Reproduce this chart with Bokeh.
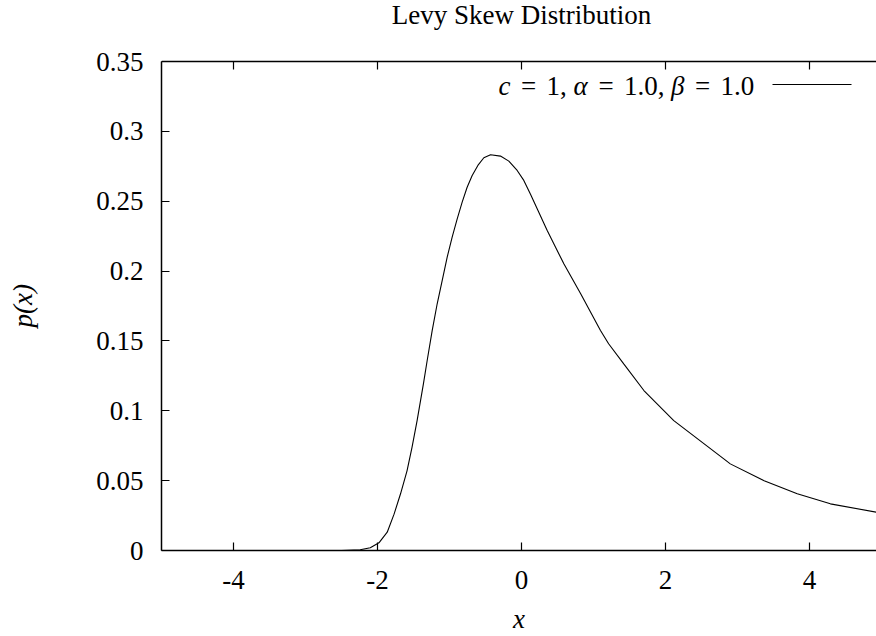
from bokeh.plotting import figure
from bokeh.models import Range1d, LinearAxis, FixedTicker, Label, Span
from bokeh.embed import file_html
from bokeh.resources import INLINE

# ---- data ----
x_vals = [-5.0, -4.0, -3.0, -2.5, -2.24, -2.1, -1.98, -1.865, -1.77, -1.68, -1.59,
          -1.52, -1.45, -1.36, -1.31, -1.24, -1.171, -1.101, -1.032, -0.963, -0.893,
          -0.824, -0.755, -0.685, -0.606, -0.523, -0.43, -0.292, -0.176, -0.06, 0.032,
          0.125, 0.357, 0.59, 0.82, 1.097, 1.21, 1.42, 1.70, 2.115, 2.81, 2.90,
          3.37, 3.83, 4.29, 4.93, 5.0]
p_vals = [0.0, 0.0, 0.0, 0.0, 0.0005, 0.002, 0.0055, 0.0131, 0.026, 0.0406, 0.057,
          0.074, 0.093, 0.12, 0.136, 0.1575, 0.1766, 0.1933, 0.210, 0.2243, 0.2374,
          0.2493, 0.260, 0.2684, 0.2756, 0.2811, 0.2832, 0.2823, 0.2787, 0.272, 0.2649,
          0.255, 0.229, 0.205, 0.184, 0.1575, 0.148, 0.1336, 0.1145, 0.093, 0.0656,
          0.062, 0.050, 0.0406, 0.0334, 0.0274, 0.027]
x_ticks = [-4, -2, 0, 2, 4]
x_tick_labels = ["-4", "-2", "0", "2", "4"]
y_ticks = [0, 0.05, 0.1, 0.15, 0.2, 0.25, 0.3, 0.35]
y_tick_labels = ["0", "0.05", "0.1", "0.15", "0.2", "0.25", "0.3", "0.35"]
title_text = "Levy Skew Distribution"
legend_tokens = [("c", "italic"), ("=", "normal"), ("1,", "normal"), ("\u03b1", "italic"),
                 ("=", "normal"), ("1.0,", "normal"), ("\u03b2", "italic"),
                 ("=", "normal"), ("1.0", "normal")]

FONT = "'Liberation Serif'"
FS = "27px"

# ---- layout (pixels) ----
W, H = 876, 636
FL, FB = 161, 550          # frame left, frame bottom (frame reaches the top edge)
BOX_TOP = 61               # top border of the plotting box
XPX = 72.0                 # pixels per x unit
YPX = 489.0 / 0.35         # pixels per y unit
XMIN, XMAX = -5.0, -5.0 + (W - FL) / XPX
YMIN, YBOX = 0.0, 0.35
YMAX = YBOX + BOX_TOP / YPX

p = figure(width=W, height=H, x_range=Range1d(XMIN, XMAX), y_range=Range1d(YMIN, YMAX),
           output_backend="svg", toolbar_location=None, x_axis_location=None,
           y_axis_location=None, min_border_left=FL, min_border_right=0,
           min_border_top=0, min_border_bottom=H - FB)
p.title.visible = False
p.outline_line_color = None
p.xgrid.visible = False
p.ygrid.visible = False
p.background_fill_color = "white"
p.border_fill_color = "white"

def style_axis(ax, ticks, labels):
    ax.ticker = FixedTicker(ticks=ticks)
    ax.major_label_overrides = {t: l for t, l in zip(ticks, labels)}
    ax.major_tick_in = 8
    ax.major_tick_out = 0
    ax.minor_tick_line_color = None
    ax.axis_line_width = 1.5
    ax.major_tick_line_width = 1.2
    ax.axis_line_color = "black"
    ax.major_tick_line_color = "black"
    ax.major_label_text_font = FONT
    ax.major_label_text_font_size = FS
    ax.major_label_text_color = "black"
    ax.axis_label_text_font = FONT
    ax.axis_label_text_font_size = FS
    ax.axis_label_text_font_style = "italic"
    ax.axis_label_text_color = "black"

xb = LinearAxis(axis_label="x")
style_axis(xb, x_ticks, x_tick_labels)
xb.major_label_standoff = 20
xb.axis_label_standoff = 12
p.add_layout(xb, "below")

# trailing no-break spaces centre the label on the box rather than the whole frame
yl = LinearAxis(axis_label="p(x)" + "\u00a0" * 9, bounds=(YMIN, YBOX))
style_axis(yl, y_ticks, y_tick_labels)
yl.major_label_standoff = 18
yl.axis_label_standoff = 55
p.add_layout(yl, "left")

# top border of the box with inward ticks
p.add_layout(Span(location=YBOX, dimension="width", line_color="black", line_width=1.5))
p.segment(x0=x_ticks, y0=[YBOX] * len(x_ticks), x1=x_ticks,
          y1=[YBOX - 8 / YPX] * len(x_ticks), line_color="black", line_width=1.2)

p.line(x_vals, p_vals, line_color="black", line_width=1.1)

# pixel -> data helpers (page coordinates)
def dx(px):
    return XMIN + (px - FL) / XPX
def dy(py):
    return (FB - py) / YPX

p.add_layout(Label(x=dx(521), y=dy(14), text=title_text, text_font=FONT,
                   text_font_size=FS, text_color="black", text_align="center",
                   text_baseline="alphabetic"))

tok_x = [498, 520.5, 546, 573, 598, 623.5, 670.5, 694.5, 720]
for (t, st), px in zip(legend_tokens, tok_x):
    p.add_layout(Label(x=dx(px), y=dy(85), text=t, text_font=FONT, text_font_style=st,
                       text_color="black", text_font_size=FS, text_align="left",
                       text_baseline="alphabetic"))
p.segment(x0=[dx(772)], y0=[dy(84)], x1=[dx(851)], y1=[dy(84)], line_color="black",
          line_width=1.1)

open("out.html", "w").write(file_html(p, INLINE))
